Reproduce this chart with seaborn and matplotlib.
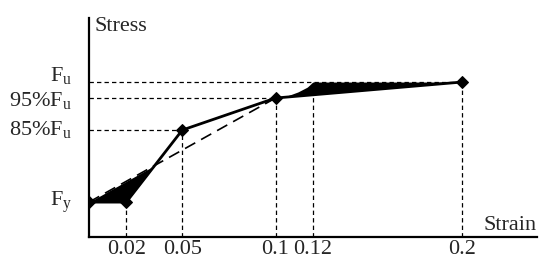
import matplotlib
matplotlib.use("Agg")
import matplotlib.pyplot as plt
import matplotlib.transforms as mtrans
import seaborn as sns
import numpy as np
import pandas as pd

sns.set_theme(style="white")
plt.rcParams['font.family'] = ['Liberation Serif', 'DejaVu Serif']
plt.rcParams['mathtext.fontset'] = 'custom'
plt.rcParams['mathtext.rm'] = 'Liberation Serif'
plt.rcParams['mathtext.it'] = 'Liberation Serif'

# Data (stress as a ratio of Fu)
strain = [0.0, 0.02, 0.05, 0.1, 0.2]
stress = [0.625, 0.625, 0.85, 0.95, 1.0]
# bilinear idealisation (dashed)
ideal_strain = [0.0, 0.1]
ideal_stress = [0.625, 0.95]
# upper edge of shaded area near 0.1-0.2
shade_strain = [0.1, 0.105, 0.112, 0.117, 0.12, 0.2]
shade_stress = [0.95, 0.954, 0.969, 0.984, 1.0, 1.0]

xticks = [0.02, 0.05, 0.1, 0.12, 0.2]
xticklabels = ["0.02", "0.05", "0.1", "0.12", "0.2"]
yticks = [0.625, 0.85, 0.95, 1.0]
yticklabels = [r"$\mathrm{F_y}$", r"$\mathrm{85\%F_u}$", r"$\mathrm{95\%F_u}$", r"$\mathrm{F_u}$"]

df = pd.DataFrame({"strain": strain, "stress": stress})

fig = plt.figure(figsize=(5.5, 2.71), dpi=100)
ax = fig.add_axes([89/550, 1-237/271, (537-89)/550, (237-18)/271])

xmin, xmax = 0.0, 0.2402
ymin, ymax = 0.516, 1.2
ax.set_xlim(xmin, xmax)
ax.set_ylim(ymin, ymax)

# reference dashed lines
ref_kw = dict(color="black", lw=0.9, ls=(0, (3.5, 2.5)))
for xs, ys in zip(strain[1:], stress[1:]):
    ax.plot([xs, xs], [ymin, ys], **ref_kw)
ax.plot([0.12, 0.12], [ymin, 1.0], **ref_kw)
for xs, ys in zip(strain[2:], stress[2:]):
    ax.plot([xmin, xs], [ys, ys], **ref_kw)

# shaded area 1: between solid curve and dashed idealisation near yield
xs1 = np.linspace(0, 0.0353, 50)
solid1 = np.interp(xs1, strain, stress)
dash1 = np.interp(xs1, ideal_strain, ideal_stress)
ax.fill_between(xs1, solid1, dash1, color="black", lw=0)

# shaded area 2
xs2 = np.linspace(0.1, 0.2, 200)
solid2 = np.interp(xs2, strain, stress)
top2 = np.interp(xs2, shade_strain, shade_stress)
ax.fill_between(xs2, solid2, np.maximum(top2, solid2), color="black", lw=0)

# dashed idealisation
ax.plot(ideal_strain, ideal_stress, color="black", lw=1.2, ls=(0, (7, 4)))

# main curve
sns.lineplot(data=df, x="strain", y="stress", ax=ax, color="black", lw=2,
             marker="D", markersize=6, markeredgecolor="black", sort=False)

ax.set_xticks(xticks)
ax.set_xticklabels(xticklabels, fontsize=16)
ax.set_yticks(yticks)
ax.set_yticklabels(yticklabels, fontsize=16)
ax.tick_params(axis="both", length=0)
ax.tick_params(axis="x", pad=2)
ax.tick_params(axis="y", pad=12)
ax.set_xlabel("")
ax.set_ylabel("")

# nudge y labels vertically (pixels, upward)
shifts = [4, 3, 0, 9]
for lab, dy in zip(ax.get_yticklabels(), shifts):
    lab.set_transform(lab.get_transform() +
                      mtrans.ScaledTranslation(0, dy / 100, fig.dpi_scale_trans))

for s in ["top", "right"]:
    ax.spines[s].set_visible(False)
for s in ["left", "bottom"]:
    ax.spines[s].set_color("black")
    ax.spines[s].set_linewidth(1.6)

ax.text(0.003, 1.203, "Stress", fontsize=16, ha="left", va="top")
ax.text(0.2402, 0.522, "Strain", fontsize=16, ha="right", va="bottom")

fig.savefig("out.png", dpi=100)
